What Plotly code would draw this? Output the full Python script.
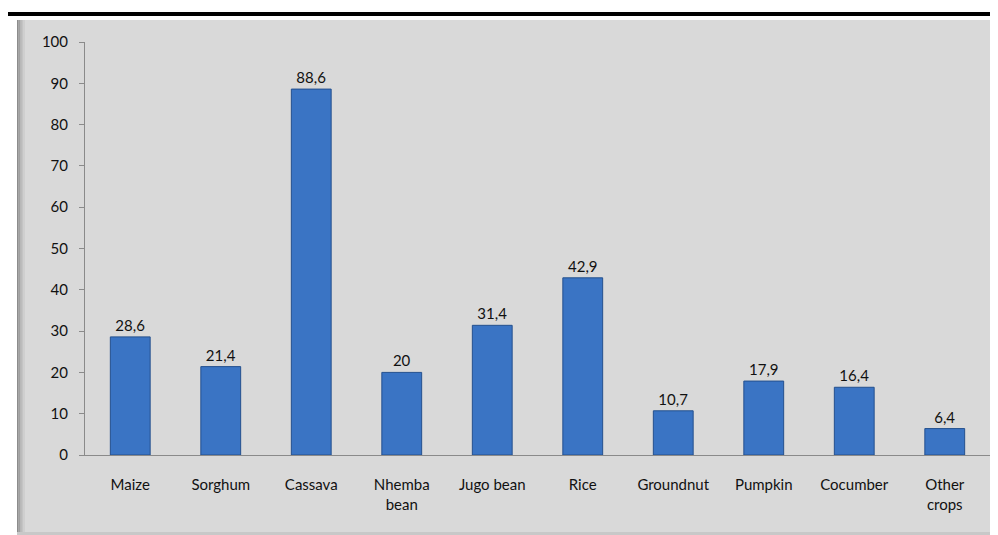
import plotly.graph_objects as go

crops = ["Maize", "Sorghum", "Cassava", "Nhemba<br>bean", "Jugo bean", "Rice",
         "Groundnut", "Pumpkin", "Cocumber", "Other<br>crops"]
shares = [28.6, 21.4, 88.6, 20, 31.4, 42.9, 10.7, 17.9, 16.4, 6.4]
labels = [str(v).replace(".", ",") for v in shares]

# the page puts the figure 8px in from the top-left corner
OFF = 8
W, H = 998 - OFF, 535 - OFF
L, R, T, B = 85 - OFF, 8, 42 - OFF, 80
pw, ph = W - L - R, H - T - B


def px_x(x):
    return (x - OFF - L) / pw


def px_y(y):
    return (H - B - (y - OFF)) / ph


fig = go.Figure(go.Bar(
    x=crops,
    y=shares,
    text=labels,
    textposition="outside",
    textfont=dict(size=15, color="#111111"),
    marker=dict(color="#3a74c4", line=dict(color="#24508e", width=1)),
    cliponaxis=False,
))

shapes = [
    # black rule at top
    dict(type="rect", xref="paper", yref="paper", x0=px_x(8), x1=px_x(1000),
         y0=px_y(16), y1=px_y(12), fillcolor="black", line_width=0, layer="below"),
    # gray panel
    dict(type="rect", xref="paper", yref="paper", x0=px_x(17), x1=px_x(1000),
         y0=px_y(532), y1=px_y(20), fillcolor="#d9d9d9", line_width=0, layer="below"),
]
# shadow at the left edge of the panel
for i, c in enumerate(["#8c8c8c", "#a0a0a0", "#b3b3b3", "#c4c4c4", "#cfcfcf"]):
    shapes.append(dict(type="rect", xref="paper", yref="paper",
                       x0=px_x(17 + i * 1.6), x1=px_x(17 + (i + 1) * 1.6),
                       y0=px_y(532), y1=px_y(20), fillcolor=c, line_width=0, layer="below"))
# light edge at bottom of panel
shapes.append(dict(type="rect", xref="paper", yref="paper", x0=px_x(17), x1=px_x(1000),
                   y0=px_y(535), y1=px_y(532), fillcolor="#c8c8c8", line_width=0, layer="below"))

fig.update_layout(
    width=W, height=H,
    margin=dict(l=L, r=R, t=T, b=B),
    paper_bgcolor="white",
    plot_bgcolor="rgba(0,0,0,0)",
    font=dict(family="Lato, Open Sans, sans-serif", size=15, color="#111111"),
    bargap=0.56,
    showlegend=False,
    shapes=shapes,
)
fig.update_xaxes(
    showline=True, linecolor="#8a8a8a", linewidth=1,
    ticks="", showgrid=False, tickfont=dict(size=15),
    ticklabelstandoff=16,
)
fig.update_yaxes(
    range=[0, 100], dtick=10, showline=True, linecolor="#8a8a8a", linewidth=1,
    ticks="outside", ticklen=5, tickcolor="#8a8a8a", showgrid=False,
    zeroline=False, tickfont=dict(size=15), ticklabelstandoff=8,
)

fig.write_html("out.html")
